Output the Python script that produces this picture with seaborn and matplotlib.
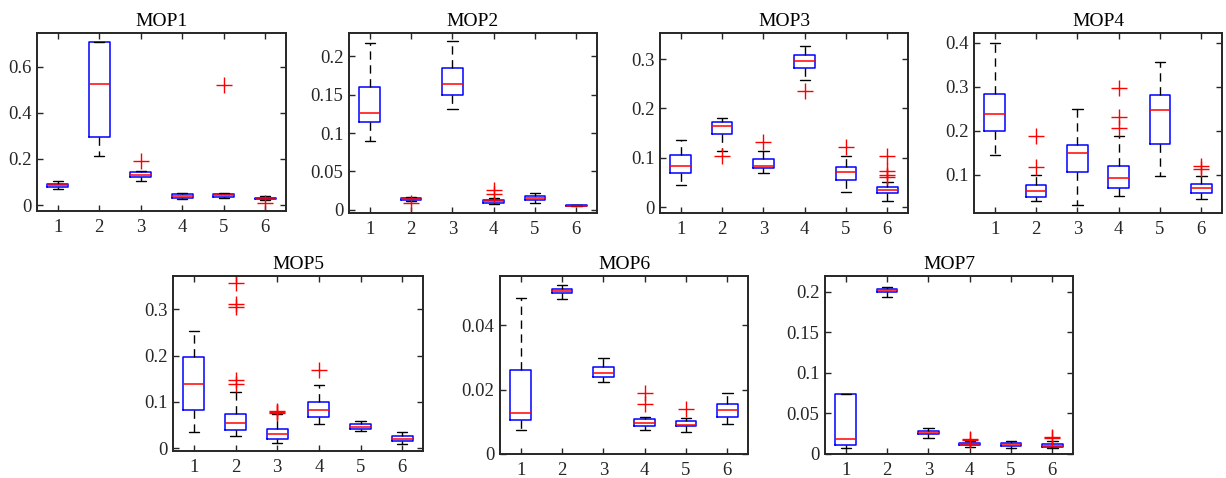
import matplotlib
matplotlib.use("Agg")
import matplotlib.pyplot as plt
import numpy as np
import pandas as pd
import seaborn as sns
from matplotlib.ticker import FuncFormatter

# ---------------- data ----------------
TITLES = ["MOP1", "MOP2", "MOP3", "MOP4", "MOP5", "MOP6", "MOP7"]
ALGORITHMS = ["1", "2", "3", "4", "5", "6"]

WHISKER_LOW = [
    [0.068, 0.213, 0.105, 0.026, 0.032, 0.020],
    [0.090, 0.0115, 0.131, 0.0075, 0.0087, 0.0045],
    [0.0445, 0.113, 0.0688, 0.257, 0.0303, 0.0135],
    [0.1455, 0.040, 0.0318, 0.0508, 0.0977, 0.0455],
    [0.0353, 0.026, 0.0115, 0.0526, 0.0382, 0.0101],
    [0.0075, 0.0481, 0.0222, 0.0075, 0.0069, 0.0094],
    [0.0078, 0.194, 0.020, 0.009, 0.0078, 0.007],
]
Q1 = [
    [0.077, 0.297, 0.122, 0.032, 0.035, 0.026],
    [0.114, 0.0125, 0.149, 0.009, 0.0126, 0.0048],
    [0.0695, 0.1477, 0.0789, 0.2825, 0.056, 0.0283],
    [0.1992, 0.050, 0.106, 0.0705, 0.1705, 0.0583],
    [0.0822, 0.039, 0.0209, 0.0678, 0.0425, 0.0159],
    [0.0105, 0.0498, 0.0239, 0.0088, 0.0086, 0.0116],
    [0.011, 0.1995, 0.0245, 0.0115, 0.0102, 0.0082],
]
MEDIAN = [
    [0.085, 0.524, 0.131, 0.039, 0.042, 0.029],
    [0.126, 0.0138, 0.164, 0.011, 0.0157, 0.0052],
    [0.083, 0.165, 0.0843, 0.2953, 0.0708, 0.035],
    [0.2386, 0.0636, 0.149, 0.0917, 0.2477, 0.0697],
    [0.1384, 0.0548, 0.0317, 0.0822, 0.0461, 0.0209],
    [0.0126, 0.0506, 0.0251, 0.0097, 0.0091, 0.0138],
    [0.018, 0.202, 0.0262, 0.0125, 0.0119, 0.0102],
]
Q3 = [
    [0.092, 0.708, 0.143, 0.046, 0.048, 0.032],
    [0.160, 0.015, 0.185, 0.013, 0.0183, 0.0056],
    [0.106, 0.1726, 0.0978, 0.308, 0.0816, 0.0405],
    [0.2833, 0.0758, 0.1674, 0.119, 0.281, 0.0788],
    [0.1975, 0.075, 0.0425, 0.1009, 0.0519, 0.026],
    [0.0261, 0.0512, 0.0269, 0.0107, 0.0101, 0.0154],
    [0.0736, 0.204, 0.0278, 0.0135, 0.0135, 0.0123],
]
WHISKER_HIGH = [
    [0.103, 0.708, 0.149, 0.050, 0.052, 0.038],
    [0.217, 0.017, 0.2196, 0.0155, 0.0217, 0.006],
    [0.1355, 0.181, 0.113, 0.327, 0.103, 0.0506],
    [0.400, 0.100, 0.249, 0.1886, 0.355, 0.0977],
    [0.2523, 0.1226, 0.0735, 0.137, 0.0598, 0.0346],
    [0.0483, 0.0523, 0.0297, 0.0116, 0.0111, 0.019],
    [0.0736, 0.206, 0.0319, 0.0155, 0.0155, 0.0159],
]
OUTLIERS = [
    [[], [], [0.189], [], [0.521], [0.008]],
    [[], [0.0085], [], [0.0205, 0.026], [], []],
    [[], [0.1045], [0.132], [0.2353], [0.123], [0.104, 0.074, 0.066, 0.062]],
    [[], [0.1167, 0.187], [], [0.206, 0.230, 0.297], [], [0.113, 0.12]],
    [[], [0.138, 0.1485, 0.306, 0.311, 0.356], [0.0764, 0.078, 0.0807], [0.170], [], []],
    [[], [], [], [0.0154, 0.019], [0.0141], []],
    [[], [], [], [0.017, 0.0185], [], [0.0195, 0.0205]],
]
YLIMS = [(-0.026, 0.746), (-0.0043, 0.2304), (-0.0115, 0.3527), (0.0129, 0.422),
         (-0.0058, 0.372), (0.0, 0.0552), (0.0, 0.2195)]
YTICKS = [
    [0, 0.2, 0.4, 0.6],
    [0, 0.05, 0.1, 0.15, 0.2],
    [0, 0.1, 0.2, 0.3],
    [0.1, 0.2, 0.3, 0.4],
    [0, 0.1, 0.2, 0.3],
    [0, 0.02, 0.04],
    [0, 0.05, 0.1, 0.15, 0.2],
]

# ---------------- layout (pixels: left, top, right, bottom) ----------------
W, H = 1226, 478
RECTS = [
    (37, 33, 286, 211), (349, 33, 597, 213), (660, 33, 908, 213), (974, 33, 1222, 213),
    (173, 276, 423, 451), (500, 276, 748, 454), (825, 276, 1073, 454),
]

sns.set_style("ticks")
plt.rcParams["font.family"] = ["Liberation Serif", "DejaVu Serif"]
plt.rcParams["xtick.direction"] = "in"
plt.rcParams["ytick.direction"] = "in"

fig = plt.figure(figsize=(W / 100, H / 100), dpi=100)

REP = 8  # each quartile value repeated so the computed quartiles equal the read ones


def sample_for(p, j):
    vals = ([WHISKER_LOW[p][j]] + [Q1[p][j]] * REP + [MEDIAN[p][j]] * REP +
            [Q3[p][j]] * REP + [WHISKER_HIGH[p][j]] + list(OUTLIERS[p][j]))
    return vals


def fmt(v, pos):
    return "%g" % round(v, 6)


for p, title in enumerate(TITLES):
    l, t, r, b = RECTS[p]
    ax = fig.add_axes([l / W, 1 - b / H, (r - l) / W, (b - t) / H])
    rows = []
    for j, alg in enumerate(ALGORITHMS):
        for v in sample_for(p, j):
            rows.append((alg, v))
    df = pd.DataFrame(rows, columns=["alg", "val"])
    sns.boxplot(
        data=df, x="alg", y="val", order=ALGORITHMS, ax=ax,
        fill=False, width=0.5, whis=1.5, linewidth=1.0, linecolor="blue",
        boxprops=dict(color="blue", linewidth=1.1),
        medianprops=dict(color="red", linewidth=1.1),
        whiskerprops=dict(color="black", linestyle=(0, (6, 4)), linewidth=1.0),
        capprops=dict(color="black", linewidth=1.0),
        flierprops=dict(marker="+", markeredgecolor="red", markerfacecolor="red",
                        markersize=12, markeredgewidth=1.0),
    )
    ax.set_xlim(-0.5, 5.5)
    ax.set_ylim(*YLIMS[p])
    ax.set_yticks(YTICKS[p])
    ax.yaxis.set_major_formatter(FuncFormatter(fmt))
    ax.set_xlabel("")
    ax.set_ylabel("")
    ax.set_title(title, fontsize=14, pad=5, color="black")
    ax.tick_params(axis="both", which="both", direction="in", top=True, right=True,
                   length=4, width=1.0, color="#262626", labelsize=13.5,
                   labelcolor="#262626")
    ax.tick_params(axis="x", pad=6)
    ax.tick_params(axis="y", pad=4)
    for s in ax.spines.values():
        s.set_visible(True)
        s.set_linewidth(1.4)
        s.set_color("#262626")

fig.savefig("out.png", dpi=100)
